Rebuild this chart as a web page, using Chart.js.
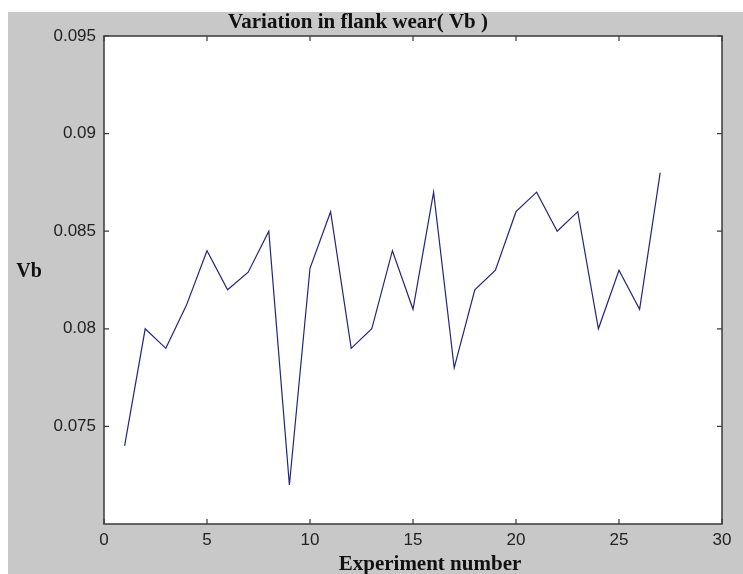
<!DOCTYPE html>
<html>
<head>
<meta charset="utf-8">
<script src="https://cdn.jsdelivr.net/npm/chart.js@4"></script>
<style>
html,body{margin:0;padding:0;background:#fff;}
#wrap{position:relative;width:743px;height:574px;}
</style>
</head>
<body>
<div id="wrap"><canvas id="c" width="743" height="574"></canvas></div>
<script>
const experiments = [1,2,3,4,5,6,7,8,9,10,11,12,13,14,15,16,17,18,19,20,21,22,23,24,25,26,27];
const vbValues = [0.074,0.080,0.079,0.0812,0.084,0.082,0.0829,0.085,0.072,0.0831,0.086,0.079,0.080,0.084,0.081,0.087,0.078,0.082,0.083,0.086,0.087,0.085,0.086,0.080,0.083,0.081,0.088];
const xTicks = [0,5,10,15,20,25,30];
const yTicks = [0.075,0.08,0.085,0.09,0.095];
const titleText = 'Variation in flank wear( Vb )';
const xTitle = 'Experiment number';
const yTitle = 'Vb';

const BG = '#c8c8c8';
const AX = '#3a3a3a';

const decor = {
  id: 'decor',
  beforeDraw(chart) {
    const ctx = chart.ctx;
    const a = chart.chartArea;
    ctx.save();
    ctx.fillStyle = '#ffffff';
    ctx.fillRect(0, 0, chart.width, chart.height);
    ctx.fillStyle = BG;
    ctx.fillRect(8, 12, chart.width - 8, chart.height - 12);
    ctx.fillStyle = '#ffffff';
    ctx.fillRect(a.left, a.top, a.right - a.left, a.bottom - a.top);
    ctx.restore();
  },
  afterDraw(chart) {
    const ctx = chart.ctx;
    const a = chart.chartArea;
    const xs = chart.scales.x, ys = chart.scales.y;
    ctx.save();
    ctx.strokeStyle = AX;
    ctx.lineWidth = 1.5;
    ctx.strokeRect(a.left, a.top, a.right - a.left, a.bottom - a.top);
    ctx.lineWidth = 1.2;
    const L = 5;
    xTicks.forEach(v => {
      const px = xs.getPixelForValue(v);
      ctx.beginPath();
      ctx.moveTo(px, a.bottom); ctx.lineTo(px, a.bottom - L);
      ctx.moveTo(px, a.top); ctx.lineTo(px, a.top + L);
      ctx.stroke();
    });
    yTicks.forEach(v => {
      const py = ys.getPixelForValue(v);
      ctx.beginPath();
      ctx.moveTo(a.left, py); ctx.lineTo(a.left + L, py);
      ctx.moveTo(a.right, py); ctx.lineTo(a.right - L, py);
      ctx.stroke();
    });
    ctx.fillStyle = '#111';
    ctx.font = 'bold 21px "Liberation Serif", "Times New Roman", serif';
    ctx.textAlign = 'center';
    ctx.textBaseline = 'alphabetic';
    ctx.fillText(titleText, 358, 28);
    ctx.fillText(xTitle, 430, 570);
    ctx.font = 'bold 20px "Liberation Serif", "Times New Roman", serif';
    ctx.fillText(yTitle, 29, 277);
    ctx.restore();
  }
};

new Chart(document.getElementById('c'), {
  type: 'line',
  data: {
    datasets: [{
      data: experiments.map((x, i) => ({x: x, y: vbValues[i]})),
      borderColor: '#24247e',
      borderWidth: 1.2,
      pointRadius: 0,
      tension: 0,
      fill: false
    }]
  },
  options: {
    responsive: false,
    animation: false,
    layout: { padding: { left: 0, right: 21, top: 36, bottom: 0 } },
    plugins: { legend: { display: false }, tooltip: { enabled: false } },
    scales: {
      x: {
        type: 'linear', min: 0, max: 30,
        afterBuildTicks: s => { s.ticks = xTicks.map(v => ({value: v})); },
        afterFit: s => { s.height = 50; },
        grid: { display: false, drawTicks: false },
        border: { display: false },
        ticks: { color: '#222', font: { family: '"Liberation Sans", Arial, sans-serif', size: 17 }, padding: 6, maxRotation: 0 }
      },
      y: {
        type: 'linear', min: 0.07, max: 0.095,
        afterBuildTicks: s => { s.ticks = yTicks.map(v => ({value: v})); },
        afterFit: s => { s.width = 104; },
        grid: { display: false, drawTicks: false },
        border: { display: false },
        ticks: { color: '#222', font: { family: '"Liberation Sans", Arial, sans-serif', size: 17 }, padding: 8,
          callback: v => String(+v.toFixed(3)) }
      }
    }
  },
  plugins: [decor]
});
</script>
</body>
</html>
